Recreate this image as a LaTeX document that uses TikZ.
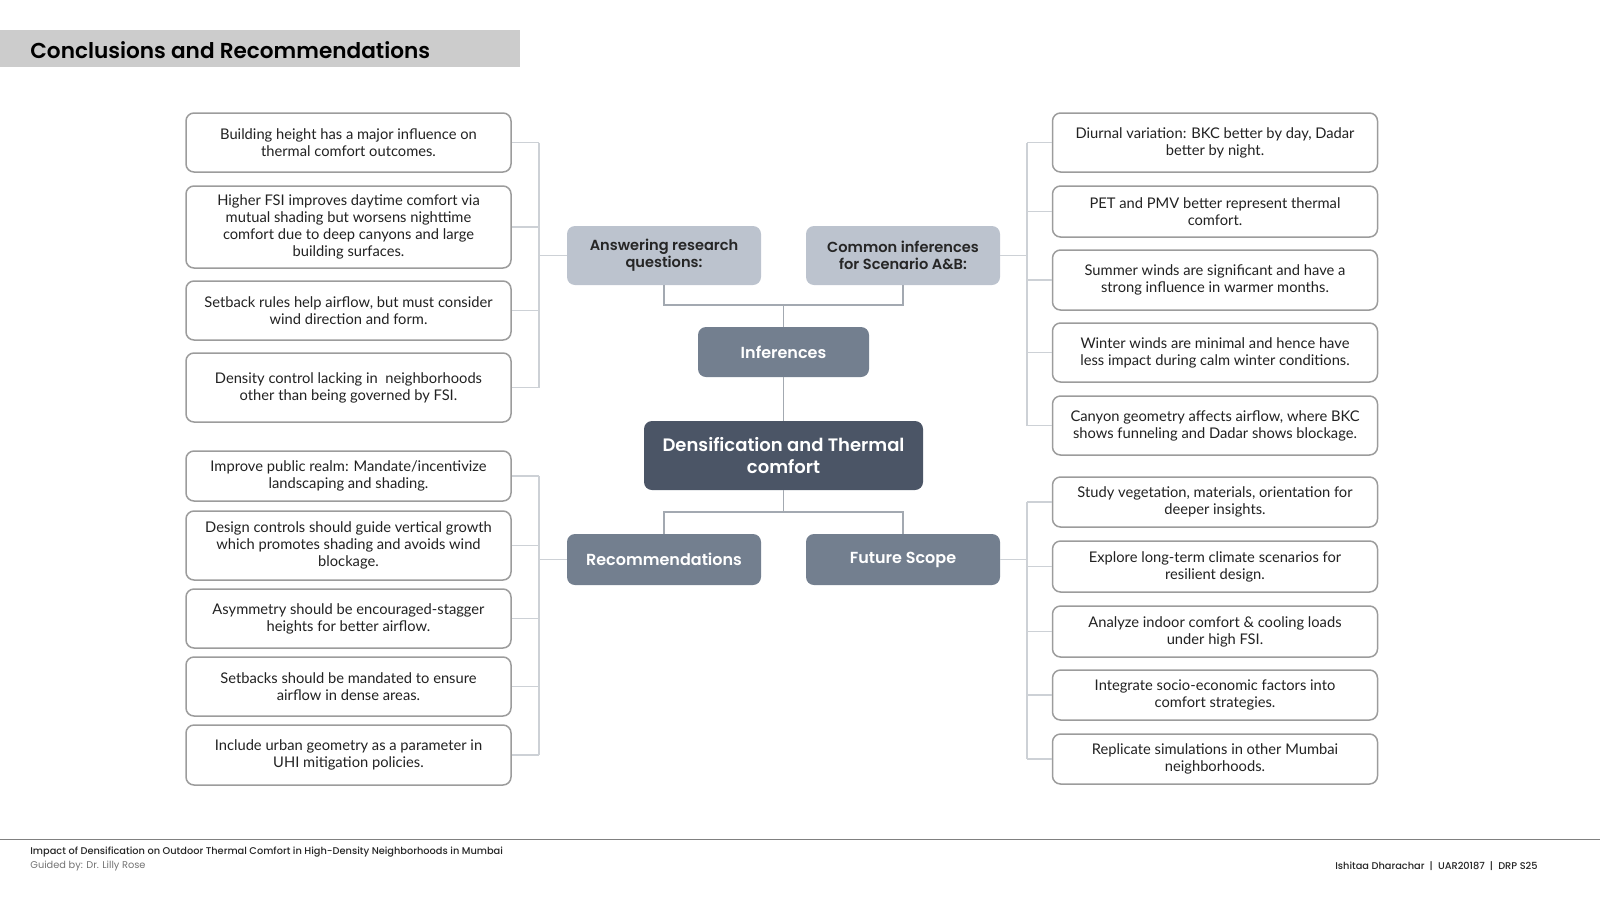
\documentclass[tikz,border=0pt]{standalone}
\usepackage{fontspec}
\setmainfont{Lato}
\newfontfamily\headfont{Poppins}[BoldFont={Poppins SemiBold}]
\newfontfamily\footfont{Poppins Medium}
\usetikzlibrary{positioning}

\definecolor{titleGray}{HTML}{CCCCCC}
\definecolor{lightHead}{HTML}{BCC3CE}
\definecolor{midHead}{HTML}{737F8F}
\definecolor{darkHead}{HTML}{4B5566}
\definecolor{leafBorder}{HTML}{9C9C9C}
\definecolor{bracketGray}{HTML}{CDD1D6}
\definecolor{stemGray}{HTML}{A3A9B1}
\definecolor{leafText}{HTML}{222222}

\begin{document}
\begin{tikzpicture}[
    x=0.5pt, y=-0.5pt,
    leaf/.style={draw=leafBorder, line width=0.75pt, rounded corners=4pt, fill=white,
        minimum width=162.5pt, align=center, text=leafText,
        font=\fontsize{7.35}{8.5}\selectfont, inner sep=0pt},
    leafH/.style={minimum height=#1},
    headBox/.style={rounded corners=4pt, minimum width=97pt, minimum height=29.5pt,
        align=center, inner sep=0pt},
    lightBox/.style={headBox, fill=lightHead, text=black!85,
        font=\headfont\bfseries\fontsize{7.3}{8.6}\selectfont},
    midBox/.style={headBox, fill=midHead, text=white,
        font=\headfont\bfseries\fontsize{8}{9}\selectfont},
    bracket/.style={draw=bracketGray, line width=0.6pt},
    stem/.style={draw=stemGray, line width=0.8pt},
    every node/.style={
        text centered,
        }
        ]
    \useasboundingbox (0,0) rectangle (1600,900);

    % title bar
    \fill[titleGray] (0,30) rectangle (520,67);
    \node[anchor=west, font=\headfont\bfseries\fontsize{10.8}{13}\selectfont, inner sep=0pt] (title) at (30,50) {Conclusions and Recommendations};

    % central tree
    \node[headBox, fill=darkHead, text=white, minimum width=139.5pt, minimum height=34.5pt,
        font=\headfont\bfseries\fontsize{9}{10.6}\selectfont] (dens) at (783.5,455.5) {Densification and Thermal\\comfort};
    \node[midBox, minimum width=85.5pt, minimum height=25pt] (inf) at (783.5,352) {Inferences};
    \node[lightBox] (ans) at (664,255.5) {Answering research\\questions:};
    \node[lightBox] (com) at (903,255.5) {Common inferences\\for Scenario A\&B:};
    \node[midBox, minimum height=25.5pt] (rec) at (664,559.5) {Recommendations};
    \node[midBox, minimum height=25.5pt] (fut) at (903,559.5) {Future Scope};

    \coordinate (topJoin) at (783.5,305);
    \coordinate (botJoin) at (783.5,512);
    \draw[stem] (dens.north) -- (inf.south);
    \draw[stem] (inf.north) -- (topJoin);
    \draw[stem] (ans.south) -- (ans.south |- topJoin) -- (com.south |- topJoin) -- (com.south);
    \draw[stem] (dens.south) -- (botJoin);
    \draw[stem] (rec.north) -- (rec.north |- botJoin) -- (fut.north |- botJoin) -- (fut.north);

    % left: answering research questions
    \node[leaf, leafH=29.5pt] (a1) at (348.5,142.5) {Building height has a major influence on\\thermal comfort outcomes.};
    \node[leaf, leafH=41pt] (a2) at (348.5,227) {Higher FSI improves daytime comfort via\\mutual shading but worsens nighttime\\comfort due to deep canyons and large\\building surfaces.};
    \node[leaf, leafH=29.5pt] (a3) at (348.5,310.5) {Setback rules help airflow, but must consider\\wind direction and form.};
    \node[leaf, leafH=34.5pt] (a4) at (348.5,387.5) {Density control lacking in\ \ neighborhoods\\other than being governed by FSI.};

    % left: recommendations
    \node[leaf, leafH=25pt] (r1) at (348.5,476) {Improve public realm: Mandate/incentivize\\landscaping and shading.};
    \node[leaf, leafH=34.5pt] (r2) at (348.5,545.5) {Design controls should guide vertical growth\\which promotes shading and avoids wind\\blockage.};
    \node[leaf, leafH=29.5pt] (r3) at (348.5,618.5) {Asymmetry should be encouraged-stagger\\heights for better airflow.};
    \node[leaf, leafH=29.5pt] (r4) at (348.5,686.5) {Setbacks should be mandated to ensure\\airflow in dense areas.};
    \node[leaf, leafH=30pt] (r5) at (348.5,755) {Include urban geometry as a parameter in\\UHI mitigation policies.};

    % right: common inferences
    \node[leaf, leafH=29.5pt] (c1) at (1215,142.5) {Diurnal variation: BKC better by day, Dadar\\better by night.};
    \node[leaf, leafH=25.5pt] (c2) at (1215,211.5) {PET and PMV better represent thermal\\comfort.};
    \node[leaf, leafH=30pt] (c3) at (1215,280) {Summer winds are significant and have a\\strong influence in warmer months.};
    \node[leaf, leafH=29.5pt] (c4) at (1215,352.5) {Winter winds are minimal and hence have\\less impact during calm winter conditions.};
    \node[leaf, leafH=29.5pt] (c5) at (1215,425.5) {Canyon geometry affects airflow, where BKC\\shows funneling and Dadar shows blockage.};

    % right: future scope
    \node[leaf, leafH=25pt] (f1) at (1215,502) {Study vegetation, materials, orientation for\\deeper insights.};
    \node[leaf, leafH=25.5pt] (f2) at (1215,566.5) {Explore long-term climate scenarios for\\resilient design.};
    \node[leaf, leafH=25.5pt] (f3) at (1215,631.5) {Analyze indoor comfort \& cooling loads\\under high FSI.};
    \node[leaf, leafH=25pt] (f4) at (1215,695) {Integrate socio-economic factors into\\comfort strategies.};
    \node[leaf, leafH=25pt] (f5) at (1215,759) {Replicate simulations in other Mumbai\\neighborhoods.};

    % brackets
    \coordinate (leftBus) at (539,0);
    \coordinate (rightBus) at (1027,0);
    \draw[bracket] (a1.east -| leftBus) -- (a4.east -| leftBus);
    \draw[bracket] (r1.east -| leftBus) -- (r5.east -| leftBus);
    \draw[bracket] (c1.west -| rightBus) -- (c5.west -| rightBus);
    \draw[bracket] (f1.west -| rightBus) -- (f5.west -| rightBus);
    \foreach \n in {a1,a2,a3,a4,r1,r2,r3,r4,r5}
        \draw[bracket] (\n.east) -- (\n.east -| leftBus);
    \foreach \n in {c1,c2,c3,c4,c5,f1,f2,f3,f4,f5}
        \draw[bracket] (\n.west) -- (\n.west -| rightBus);
    \draw[bracket] (ans.west) -- (ans.west -| leftBus);
    \draw[bracket] (rec.west) -- (rec.west -| leftBus);
    \draw[bracket] (com.east) -- (com.east -| rightBus);
    \draw[bracket] (fut.east) -- (fut.east -| rightBus);

    % footer
    \coordinate (footL) at (0,839);
    \coordinate (footR) at (1600,839);
    \draw[gray, line width=0.5pt] (footL) -- (footR);
    \node[anchor=west, inner sep=0pt, font=\footfont\fontsize{4.9}{6}\selectfont, text=black!85] (footTitle) at (30,852) {Impact of Densification on Outdoor Thermal Comfort in High-Density Neighborhoods in Mumbai};
    \node[anchor=west, inner sep=0pt, font=\headfont\fontsize{4.9}{6}\selectfont, text=black!55] (footGuide) at (30,866) {Guided by: Dr. Lilly Rose};
    \node[anchor=east, inner sep=0pt, font=\footfont\fontsize{4.9}{6}\selectfont, text=black!85] (footAuthor) at (1538,866) {Ishitaa Dharachar\ \ |\ \ UAR20187\ \ |\ \ DRP S25};
\end{tikzpicture}
\end{document}
